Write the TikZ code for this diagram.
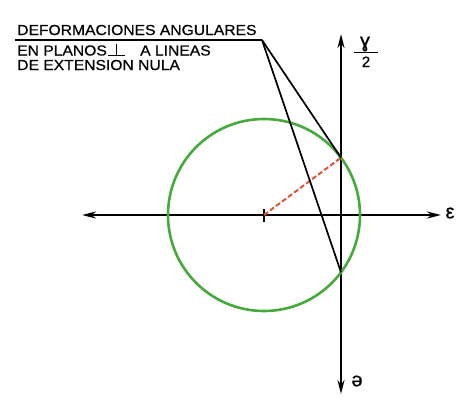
\documentclass[tikz,border=0pt]{standalone}
\usepackage{fontspec}
\setmainfont{Liberation Sans}
\newfontfamily\lbfont[FakeBold=0.6]{Liberation Sans}
\usetikzlibrary{arrows.meta}
\definecolor{circgreen}{RGB}{70,170,60}
\definecolor{dashred}{RGB}{225,85,55}
\tikzset{
  axis/.style={line width=2.8pt,{Stealth[length=14pt,width=7pt]}-{Stealth[length=14pt,width=7pt]}},
  leader/.style={line width=1.7pt},
  lbl/.style={font=\lbfont\fontsize{14.5}{16}\selectfont, inner sep=0pt, xscale=1.08},
  sym/.style={font=\lbfont\fontsize{20}{21}\selectfont, inner sep=0pt}
}
\begin{document}
\begin{tikzpicture}[x=1pt,y=-1pt]
\useasboundingbox (0,0) rectangle (467,405);
% axes
\coordinate (vt) at (341,34);
\coordinate (vb) at (341,394);
\coordinate (hl) at (82,215);
\coordinate (hr) at (441,215);
\draw[axis] (vb) -- (vt);
\draw[axis] (hl) -- (hr);
% circle
\coordinate (c) at (264,215);
\draw[circgreen, line width=2.6pt] (c) circle[radius=96];
\coordinate (pu) at (341,157.7);
\coordinate (pd) at (341,272.3);
% tick
\coordinate (t1) at (264,209);
\coordinate (t2) at (264,222);
\draw[line width=1.5pt] (t1) -- (t2);
% red dashed radius
\draw[dashred, line width=2pt, dash pattern=on 5pt off 2.5pt] (c) -- (pu);
% text
\node[lbl, anchor=base west] (l1) at (17,35) {DEFORMACIONES ANGULARES};
\node[lbl, anchor=base west] (l2) at (17,55.5) {EN PLANOS};
\node[lbl, anchor=base west] (l2b) at (140,55.5) {A LINEAS};
\node[lbl, anchor=base west] (l3) at (17,70) {DE EXTENSION NULA};
% perpendicular symbol
\coordinate (p0) at (116.5,43.5);
\coordinate (p1) at (116.5,55.5);
\coordinate (p2) at (108,55.5);
\coordinate (p3) at (125,55.5);
\draw[line width=1.6pt] (p0) -- (p1);
\draw[line width=1.6pt] (p2) -- (p3);
\coordinate (u0) at (15,40);
\coordinate (u1) at (262,40);
\draw[leader] (u0) -- (u1);
\draw[leader] (u1) -- (pu);
\draw[leader] (u1) -- (pd);
% labels
\node[sym] (g) at (365,44) {ɣ};
\coordinate (f0) at (354,52.5);
\coordinate (f1) at (378,52.5);
\draw[line width=1.5pt] (f0) -- (f1);
\node[font=\lbfont\fontsize{15}{16}\selectfont, inner sep=0pt, anchor=base] (two) at (366,67) {2};
\node[sym] (eps) at (450,213) {ε};
\node[sym] (sch) at (357,381) {ə};
\end{tikzpicture}
\end{document}
